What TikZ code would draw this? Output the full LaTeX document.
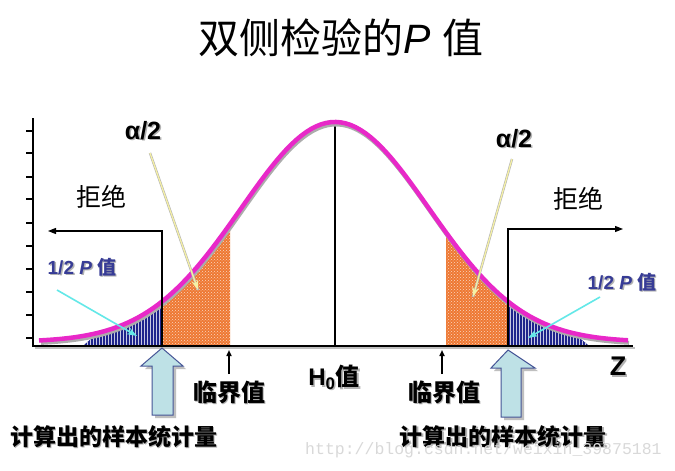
\documentclass[tikz,border=0pt]{standalone}
\usepackage{fontspec}
\setmainfont{Liberation Sans}
\newfontfamily\cjk{Noto Sans CJK SC}
\newfontfamily\wmfont{Liberation Mono}
\usetikzlibrary{patterns,arrows.meta}
\definecolor{curvemag}{RGB}{232,40,200}
\definecolor{orfill}{RGB}{238,120,50}
\definecolor{navyfill}{RGB}{30,36,140}
\definecolor{labblue}{RGB}{55,60,150}
\definecolor{blockfill}{RGB}{190,225,230}
\definecolor{blockedge}{RGB}{70,85,150}
\definecolor{palecyan}{RGB}{100,232,232}
\definecolor{paleyellow}{RGB}{245,240,165}
\newcommand\shtxt[1]{\makebox[0pt][l]{\hspace{1.5pt}\raisebox{-1.5pt}{\color{gray!60}#1}}#1}
\newcommand\gy[1]{342-220*exp(-((#1-335)/94)^2/2)}
\begin{document}
\begin{tikzpicture}[x=1pt,y=-1pt,
  lab/.style={inner sep=0pt},
  cjklab/.style={lab,font=\cjk\bfseries\fontsize{24}{26}\selectfont},
  rejline/.style={line width=1.2pt,-{Triangle[length=8pt,width=6pt]}},
  critarrow/.style={line width=1.6pt,-{Triangle[length=6pt,width=5pt]}},
  yarrow/.style={paleyellow,line width=1.3pt,-{Stealth[length=10pt,width=7pt]}},
  carrow/.style={palecyan,line width=1.6pt,-{Stealth[length=10pt,width=7pt]}},
  blockarrow/.style={fill=blockfill,draw=blockedge,line width=1pt,line join=miter},
  blockshadow/.style={fill=gray!50}
]
\useasboundingbox (0,0) rectangle (675,471);
\fill[white] (0,0) rectangle (675,471);

% title
\node[lab,font=\fontsize{41}{44}\selectfont] (title) at (341,38) {{\cjk 双侧检验的}{\itshape P} {\cjk 值}};

% shaded regions
\fill[navyfill] (84,345) -- plot[domain=98:162,samples=30] (\x,{\gy{\x}}) -- (162,345) -- cycle;
\fill[pattern=vertical lines,pattern color=white!75!navyfill] (84,345) -- plot[domain=98:162,samples=30] (\x,{\gy{\x}}) -- (162,345) -- cycle;
\fill[orfill] (162,345) -- plot[domain=162:230,samples=30] (\x,{\gy{\x}}) -- (230,345) -- cycle;
\fill[pattern=crosshatch dots,pattern color=white!70!orfill] (162,345) -- plot[domain=162:230,samples=30] (\x,{\gy{\x}}) -- (230,345) -- cycle;
\fill[orfill] (446,345) -- plot[domain=446:508,samples=30] (\x,{\gy{\x}}) -- (508,345) -- cycle;
\fill[pattern=crosshatch dots,pattern color=white!70!orfill] (446,345) -- plot[domain=446:508,samples=30] (\x,{\gy{\x}}) -- (508,345) -- cycle;
\fill[navyfill] (508,345) -- plot[domain=508:574,samples=30] (\x,{\gy{\x}}) -- (588,345) -- cycle;
\fill[pattern=vertical lines,pattern color=white!75!navyfill] (508,345) -- plot[domain=508:574,samples=30] (\x,{\gy{\x}}) -- (588,345) -- cycle;

% axes
\draw[gray!50,line width=2.5pt] (35,348) -- (635,348);
\draw[line width=2pt] (33,118) -- (33,346);
\draw[line width=2.8pt] (32,346) -- (633,346);
\foreach \ty in {131,153,177,199,223,246,269,292,315,338}
  \draw[line width=2pt] (26,\ty) -- (33,\ty);

% centre line
\draw[line width=1.6pt] (335,123) -- (335,345);

% curve
\draw[gray!65,line width=4pt] plot[domain=40:628,samples=120] ({\x+1},{\gy{\x}+2.5});
\draw[curvemag,line width=4.5pt] plot[domain=39:628,samples=120] (\x,{\gy{\x}});

% named points
\coordinate (statL) at (162,345);
\coordinate (statR) at (508,345);
\coordinate (rejLc) at (162,231);
\coordinate (rejLe) at (48,231);
\coordinate (rejRc) at (508,229);
\coordinate (rejRe) at (623,229);

% rejection lines
\draw[rejline] (statL) -- (rejLc) -- (rejLe);
\draw[rejline] (statR) -- (rejRc) -- (rejRe);

% labels
\node[lab,font=\cjk\fontsize{25}{27}\selectfont] (rejLlab) at (101,197) {拒绝};
\node[lab,font=\cjk\fontsize{25}{27}\selectfont] (rejRlab) at (578,199) {拒绝};
\node[lab,font=\bfseries\fontsize{25}{27}\selectfont] (alphaL) at (143,131) {\shtxt{α/2}};
\node[lab,font=\bfseries\fontsize{25}{27}\selectfont] (alphaR) at (514,139) {\shtxt{α/2}};
\node[lab,text=labblue,font=\bfseries\fontsize{19}{21}\selectfont] (pL) at (82,268) {\shtxt{1/2 \textit{P} {\cjk 值}}};
\node[lab,text=labblue,font=\bfseries\fontsize{19}{21}\selectfont] (pR) at (622,283) {\shtxt{1/2 \textit{P} {\cjk 值}}};

% alpha arrows
\coordinate (aLs) at (150,153);
\coordinate (aLe) at (198,290);
\coordinate (aRs) at (512,159);
\coordinate (aRe) at (473,297);
\draw[gray!60,line width=2.4pt] (aLs) -- (aLe);
\draw[yarrow] (aLs) -- (aLe);
\draw[gray!60,line width=2.4pt] (aRs) -- (aRe);
\draw[yarrow] (aRs) -- (aRe);

% p arrows
\coordinate (pLs) at (57,290);
\coordinate (pLe) at (137,336);
\coordinate (pRs) at (600,297);
\coordinate (pRe) at (528,338);
\draw[carrow] (pLs) -- (pLe);
\draw[carrow] (pRs) -- (pRe);

% block arrows
\fill[blockshadow] (165,351) -- (186,369) -- (176,369) -- (176,418) -- (155,418) -- (155,369) -- (145,369) -- cycle;
\draw[blockarrow] (162,348) -- (183,366) -- (173,366) -- (173,415) -- (152,415) -- (152,366) -- (141,366) -- cycle;
\fill[blockshadow] (511,353) -- (538,371) -- (524,371) -- (524,420) -- (504,420) -- (504,371) -- (494,371) -- cycle;
\draw[blockarrow] (508,350) -- (535,368) -- (521,368) -- (521,417) -- (501,417) -- (501,368) -- (491,368) -- cycle;

% critical value arrows
\coordinate (critLb) at (229,374);
\coordinate (critLt) at (229,350);
\coordinate (critRb) at (442,374);
\coordinate (critRt) at (442,350);
\draw[critarrow] (critLb) -- (critLt);
\draw[critarrow] (critRb) -- (critRt);

\node[cjklab] (critLlab) at (229,393) {\shtxt{临界值}};
\node[cjklab] (critRlab) at (444,393) {\shtxt{临界值}};
\node[lab,font=\bfseries\fontsize{24}{26}\selectfont] (h0) at (334,378) {\shtxt{H\textsubscript{0}{\cjk 值}}};
\node[lab,font=\bfseries\fontsize{27}{29}\selectfont] (zlab) at (618,367) {\shtxt{Z}};
\node[lab,font=\cjk\bfseries\fontsize{23}{25}\selectfont] (statLlab) at (114,437) {\shtxt{计算出的样本统计量}};
\node[lab,font=\cjk\bfseries\fontsize{23}{25}\selectfont] (statRlab) at (503,437) {\shtxt{计算出的样本统计量}};

% watermark
\node[lab,anchor=west,text=gray!30,font=\wmfont\fontsize{16.5}{18}\selectfont] (wm) at (305,450) {http://blog.csdn.net/weixin\_39875181};
\end{tikzpicture}
\end{document}
